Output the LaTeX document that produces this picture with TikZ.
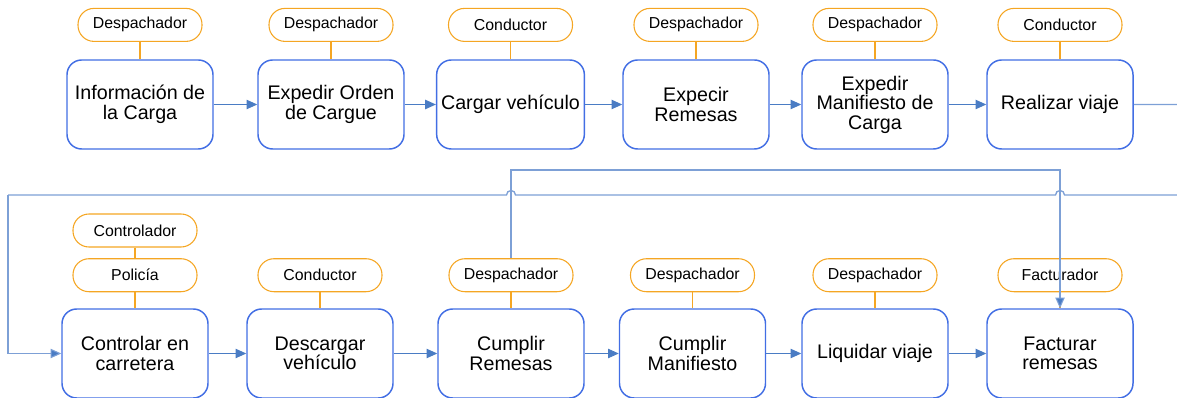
\documentclass[tikz,border=0pt]{standalone}
\usepackage{fontspec}
\setmainfont{Liberation Sans}
\usetikzlibrary{positioning,arrows.meta}
\definecolor{boxblue}{RGB}{66,110,228}
\definecolor{roleorange}{RGB}{245,166,35}
\definecolor{flowblue}{RGB}{74,124,196}
\definecolor{loopblue}{RGB}{125,160,214}

\begin{document}
\begin{tikzpicture}[
    x=0.75pt, y=-0.75pt,
    node distance=13pt,
    activity/.style={rectangle, rounded corners=11pt, draw=boxblue, line width=1.1pt, fill=white,
        minimum width=109.5pt, minimum height=66.75pt, align=center,
        font=\fontsize{14.75}{14.6}\selectfont},
    role/.style={rectangle, rounded corners=12pt, draw=roleorange, line width=0.8pt, fill=white,
        minimum width=93pt, minimum height=24.75pt, font=\fontsize{11.9}{13}\selectfont},
    link/.style={draw=roleorange, line width=0.8pt},
    arrow/.style={-{Triangle[length=8pt,width=7pt,fill=flowblue]}, draw=flowblue, line width=0.8pt},
    loop/.style={draw=loopblue, line width=1pt}
]
\useasboundingbox (0,0) rectangle (1177,398);

% top row
\node[activity] (info) at (140,104.5) {Información de\\la Carga};
\node[activity] (orden) at (331,104.5) {Expedir Orden\\de Cargue};
\node[activity] (cargar) at (510.5,104.5) {Cargar vehículo};
\node[activity] (remesas) at (696,104.5) {Expecir\\Remesas};
\node[activity] (manif) at (875,104.5) {Expedir\\Manifiesto de\\Carga};
\node[activity] (viaje) at (1060,104.5) {Realizar viaje};

\node[role, above=of info] (info-r) {Despachador};
\node[role, above=of orden] (orden-r) {Despachador};
\node[role, above=of cargar] (cargar-r) {Conductor};
\node[role, above=of remesas] (remesas-r) {Despachador};
\node[role, above=of manif] (manif-r) {Despachador};
\node[role, above=of viaje] (viaje-r) {Conductor};

% bottom row
\node[activity] (control) at (135,353.5) {Controlar en\\carretera};
\node[activity] (descarga) at (320,353.5) {Descargar\\vehículo};
\node[activity] (cumprem) at (511,353.5) {Cumplir\\Remesas};
\node[activity] (cumpman) at (692.5,353.5) {Cumplir\\Manifiesto};
\node[activity] (liquidar) at (875,353.5) {Liquidar viaje};
\node[activity] (facturar) at (1060,353.5) {Facturar\\remesas};

\node[role, above=12pt of control] (control-r) {Policía};
\node[role, above=8pt of control-r] (control-r2) {Controlador};
\node[role, above=12pt of descarga] (descarga-r) {Conductor};
\node[role, above=12pt of cumprem] (cumprem-r) {Despachador};
\node[role, above=12pt of cumpman] (cumpman-r) {Despachador};
\node[role, above=12pt of liquidar] (liquidar-r) {Despachador};
\node[role, above=12pt of facturar] (facturar-r) {Facturador};

% roles to activities
\foreach \a in {info,orden,cargar,remesas,manif,viaje,control,descarga,cumprem,cumpman,liquidar,facturar}
    \draw[link] (\a-r) -- (\a);
\draw[link] (control-r2) -- (control-r);

% flow
\draw[arrow] (info) -- (orden);
\draw[arrow] (orden) -- (cargar);
\draw[arrow] (cargar) -- (remesas);
\draw[arrow] (remesas) -- (manif);
\draw[arrow] (manif) -- (viaje);
\draw[arrow] (control) -- (descarga);
\draw[arrow] (descarga) -- (cumprem);
\draw[arrow] (cumprem) -- (cumpman);
\draw[arrow] (cumpman) -- (liquidar);
\draw[arrow] (liquidar) -- (facturar);

% return to the second row
\coordinate (turn) at (1190,195);
\coordinate (back) at (8,195);
\draw[loop] (viaje.east) -- (viaje.east -| turn) -- (turn) -- (1064.5,195)
    arc[start angle=0, end angle=-180, radius=4.5] -- (515.5,195)
    arc[start angle=0, end angle=-180, radius=4.5] -- (back);
\draw[arrow, draw=loopblue] (back) |- (control.west);

% remesas to facturacion
\coordinate (over) at (511,170);
\draw[arrow, draw=loopblue] (cumprem-r.north) -- (over) -| (facturar.north);

\end{tikzpicture}
\end{document}
